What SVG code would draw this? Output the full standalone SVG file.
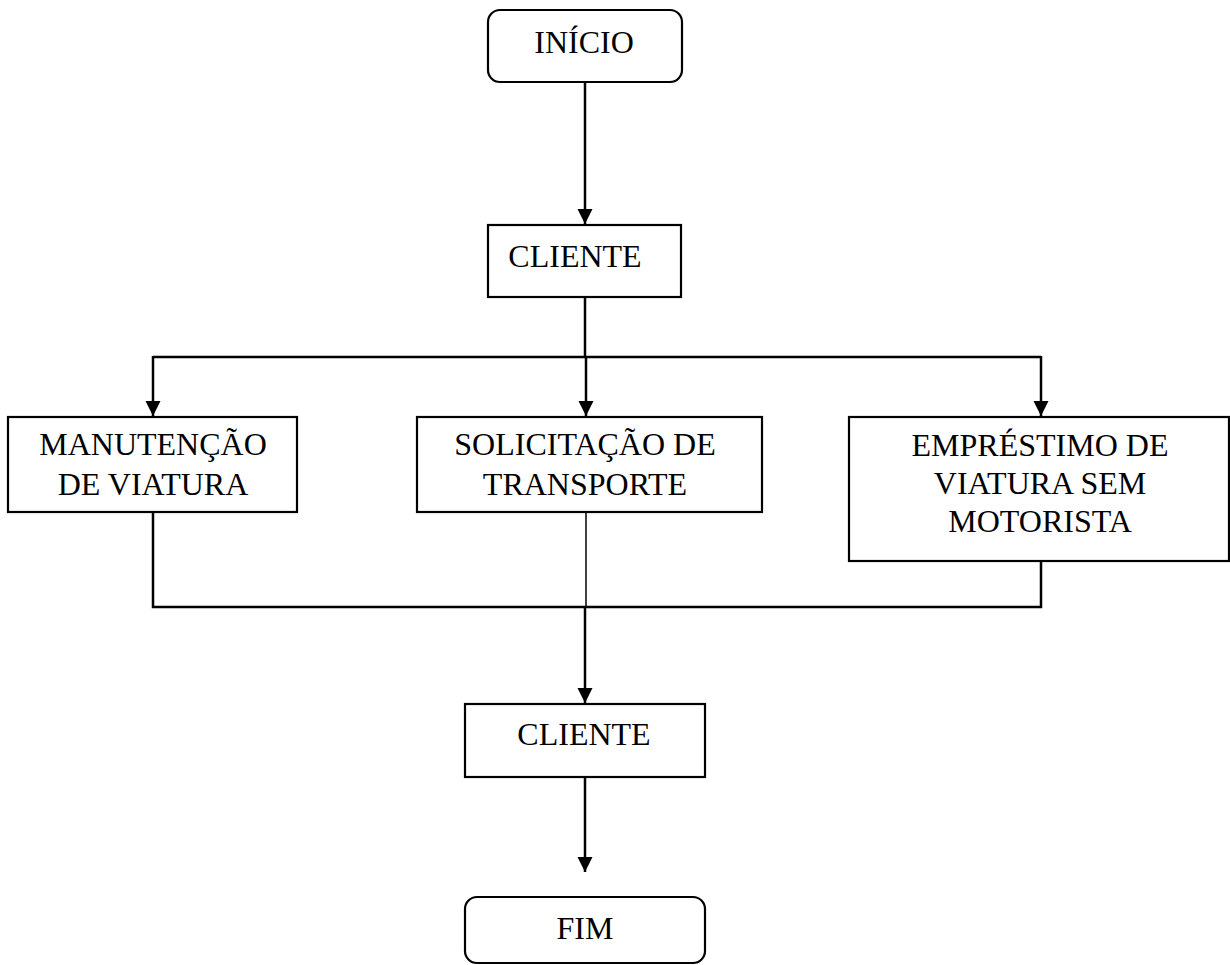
<svg xmlns="http://www.w3.org/2000/svg" width="1230" height="965" viewBox="0 0 1230 965">
  <style>
    .box { fill: #ffffff; stroke: #000000; stroke-width: 2.2; }
    .lbl { font-family: "Liberation Serif", "Times New Roman", serif; font-size: 32px; fill: #000000; text-anchor: middle; }
    .wire { fill: none; stroke: #000000; stroke-width: 2.5; }
    .thin { fill: none; stroke: #000000; stroke-width: 1.5; }
  </style>
  <defs>
    <marker id="arrow" markerUnits="userSpaceOnUse" markerWidth="16" markerHeight="16" refX="15" refY="8" orient="auto">
      <path d="M0,0.5 L15,8 L0,15.5 Z" fill="#000000"/>
    </marker>
  </defs>
  <rect width="1230" height="965" fill="#ffffff"/>

  <g id="connectors">
    <line class="wire" x1="585" y1="82" x2="585" y2="224" marker-end="url(#arrow)"/>
    <line class="wire" x1="585" y1="297" x2="585" y2="357"/>
    <polyline class="wire" points="153,357 1041,357"/>
    <line class="wire" x1="153" y1="356" x2="153" y2="416" marker-end="url(#arrow)"/>
    <line class="wire" x1="1041" y1="356" x2="1041" y2="416" marker-end="url(#arrow)"/>
    <line class="wire" x1="586" y1="357" x2="586" y2="416" marker-end="url(#arrow)"/>
    <polyline class="wire" points="153,512 153,607 1041,607 1041,561"/>
    <line class="thin" x1="586" y1="512" x2="586" y2="607"/>
    <line class="wire" x1="585" y1="607" x2="585" y2="703" marker-end="url(#arrow)"/>
    <line class="wire" x1="585" y1="777" x2="585" y2="872" marker-end="url(#arrow)"/>
  </g>

  <g id="inicio">
    <rect class="box" x="488" y="10" width="194" height="72" rx="12"/>
    <text class="lbl" x="584" y="53">INÍCIO</text>
  </g>

  <g id="cliente-1">
    <rect class="box" x="488" y="225" width="193" height="72"/>
    <text class="lbl" x="575" y="267">CLIENTE</text>
  </g>

  <g id="manutencao">
    <rect class="box" x="8" y="417" width="289" height="95"/>
    <text class="lbl" x="153" y="455">MANUTENÇÃO</text>
    <text class="lbl" x="153" y="495">DE VIATURA</text>
  </g>

  <g id="solicitacao">
    <rect class="box" x="417" y="417" width="345" height="95"/>
    <text class="lbl" x="585" y="455">SOLICITAÇÃO DE</text>
    <text class="lbl" x="585" y="495">TRANSPORTE</text>
  </g>

  <g id="emprestimo">
    <rect class="box" x="849" y="417" width="380" height="144"/>
    <text class="lbl" x="1040" y="456">EMPRÉSTIMO DE</text>
    <text class="lbl" x="1040" y="494">VIATURA SEM</text>
    <text class="lbl" x="1040" y="532">MOTORISTA</text>
  </g>

  <g id="cliente-2">
    <rect class="box" x="465" y="704" width="240" height="73"/>
    <text class="lbl" x="584" y="745">CLIENTE</text>
  </g>

  <g id="fim">
    <rect class="box" x="465" y="897" width="240" height="66" rx="12"/>
    <text class="lbl" x="585" y="939">FIM</text>
  </g>
</svg>
